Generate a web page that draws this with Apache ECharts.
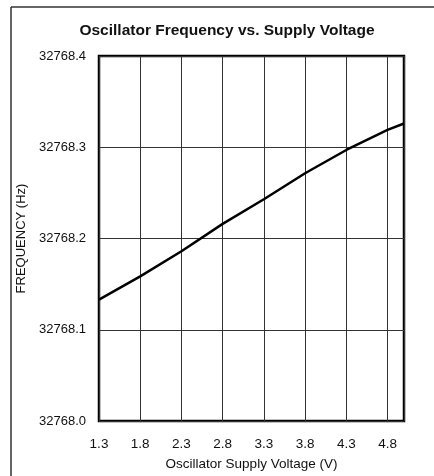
<!DOCTYPE html>
<html>
<head>
<meta charset="utf-8">
<script src="https://cdn.jsdelivr.net/npm/echarts@6/dist/echarts.min.js"></script>
<style>
  html, body { margin: 0; padding: 0; background: #fff; }
  #chart { width: 434px; height: 476px; }
</style>
</head>
<body>
<div id="chart"></div>
<script>
// supply voltage (V) and measured frequency (Hz)
const voltage = [1.3, 1.8, 2.3, 2.8, 3.3, 3.8, 4.3, 4.8, 5.0]
const frequency = [32768.133, 32768.1585, 32768.186, 32768.216, 32768.243, 32768.2715, 32768.297, 32768.319, 32768.326]

const font = '"Liberation Sans Narrow", "Liberation Sans", Arial, sans-serif'

const chart = echarts.init(document.getElementById('chart'))

chart.setOption({
  animation: false,
  title: {
    text: 'Oscillator Frequency vs. Supply Voltage',
    left: 222,
    top: 18,
    textAlign: 'center',
    textStyle: { fontFamily: font, fontSize: 15.5, fontWeight: 'bold', color: '#111' },
  },
  grid: {
    left: 99, right: 30, top: 56, bottom: 54,
    show: true, borderColor: '#000', borderWidth: 2.5,
  },
  xAxis: {
    type: 'value',
    min: 1.3, max: 5.0, interval: 0.5,
    name: 'Oscillator Supply Voltage (V)',
    nameLocation: 'middle',
    nameGap: 36,
    nameTextStyle: { fontFamily: font, fontSize: 13.5, color: '#111' },
    axisLine: { show: false },
    axisTick: { show: false },
    axisLabel: {
      margin: 16,
      fontFamily: font, fontSize: 13.5, color: '#111',
      formatter: v => (v > 4.9 ? '' : v.toFixed(1)),
    },
    splitLine: { show: true, lineStyle: { color: '#333', width: 1 } },
  },
  yAxis: {
    type: 'value',
    min: 32768.0, max: 32768.4, interval: 0.1,
    name: 'FREQUENCY (Hz)',
    nameLocation: 'middle',
    nameGap: 68,
    nameTextStyle: { fontFamily: font, fontSize: 13, color: '#111' },
    axisLine: { show: false },
    axisTick: { show: false },
    axisLabel: {
      margin: 13,
      fontFamily: font, fontSize: 13, color: '#111',
      formatter: v => v.toFixed(1),
    },
    splitLine: { show: true, lineStyle: { color: '#333', width: 1 } },
  },
  graphic: [
    { type: 'line', shape: { x1: 11, y1: 7, x2: 434, y2: 7 }, style: { stroke: '#333', lineWidth: 1.5 } },
    { type: 'line', shape: { x1: 11, y1: 7, x2: 11, y2: 476 }, style: { stroke: '#333', lineWidth: 1.5 } },
  ],
  series: [
    {
      type: 'line',
      data: voltage.map((v, i) => [v, frequency[i]]),
      showSymbol: false,
      lineStyle: { color: '#000', width: 2.5 },
    },
  ],
})
</script>
</body>
</html>
